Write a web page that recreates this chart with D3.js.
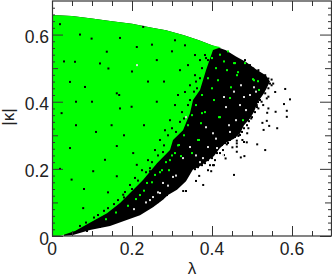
<!DOCTYPE html>
<html>
<head>
<meta charset="utf-8">
<script src="https://cdn.jsdelivr.net/npm/d3@7"></script>
<style>
html, body { margin: 0; padding: 0; background: #fff; }
svg { display: block; }
text { font-family: "Liberation Sans", sans-serif; fill: #222; }
</style>
</head>
<body>
<div id="chart"></div>
<script>
// [lambda, kappa] pairs
var upper_edge = [[0,.658],[.05,.655],[.1,.648],[.15,.64],[.2,.632],[.25,.62],[.285,.613],[.33,.598],[.3675,.583],[.4,.568],[.435,.553],[.46,.535],[.485,.518],[.51,.497],[.535,.478],[.545,.46]];
var black_lower_edge = [[.53,.425],[.515,.4],[.505,.37],[.495,.35],[.48,.33],[.47,.305],[.455,.29],[.435,.278],[.42,.262],[.405,.238],[.39,.225],[.37,.208],[.352,.197],[.335,.163],[.3125,.138],[.29,.122],[.2775,.108],[.2525,.086],[.22,.062],[.145,.03],[.095,.018],[.0525,.003],[.03,0]];
var green_edge = [[.4225,.5625],[.4025,.554],[.385,.494],[.37,.435],[.3525,.405],[.345,.366],[.3275,.315],[.3025,.286],[.295,.256],[.2625,.217],[.2275,.167],[.195,.128],[.17,.098],[.1375,.068],[.1025,.045],[.0575,.015],[.0275,.003],[.02,0],[0,0]];

var black_points = [[.587,.373],[.587,.355],[.58,.393],[.583,.438],[.595,.407],[.559,.37],[.541,.38],[.538,.367],[.537,.343],[.526,.337],[.543,.328],[.529,.316],[.563,.321],[.533,.256],[.513,.273],[.487,.279],[.48,.28],[.462,.284],[.462,.276],[.462,.266],[.451,.264],[.437,.273],[.462,.251],[.481,.238],[.472,.234],[.434,.231],[.476,.286],[.488,.306],[.466,.298],[.491,.321],[.498,.35],[.489,.345],[.558,.429],[.553,.454],[.541,.415],[.533,.425],[.516,.38],[.528,.39],[.455,.182],[.378,.152],[.335,.134],[.328,.134],[.368,.179],[.36,.164],[.398,.193],[.39,.196],[.405,.211],[.43,.241],
  [.02,.631],[.099,.588],[.141,.499],[.162,.425],[.168,.42],[.262,.4],[.0575,.519],[.045,.459],[.12,.514],[.137,.549],[.228,.623],[.212,.563],[.262,.524],[.024,.366],[.0825,.444],[.149,.33],[.199,.385],[.162,.178],[.212,.212],[.1325,.227],[.049,.168],[.103,.193],[.203,.247],[.045,.262],[.178,.123],[.078,.083],[.228,.153],[.245,.193],[.162,.268],
  [.37,.524],[.3825,.539],[.3575,.479],[.345,.449],[.3325,.429],[.3625,.44],[.3825,.47],[.32,.494],[.34,.509],[.315,.42],[.3075,.39],[.325,.369],[.295,.345],[.2825,.315],[.3,.321],[.27,.286],[.2575,.256],[.2775,.25],[.24,.226],[.225,.196],[.245,.202],[.2075,.173],[.195,.152],[.1825,.131],[.165,.107],[.14,.083],[.115,.0625],[.39,.524],[.3575,.539],[.3325,.568],[.3075,.583],[.345,.405],
  [.4825,.524],[.495,.509],[.503,.499],[.516,.494],[.524,.479],[.533,.479],[.541,.469],[.549,.466],[.537,.454],[.545,.454],[.549,.449],[.533,.44],[.541,.44],[.524,.429],[.537,.41],[.52,.405],[.512,.39],[.524,.4],
  [.515,.399],[.5125,.384],[.5075,.369],[.5,.354],[.4925,.342],[.4875,.33],[.48,.321],[.475,.31],[.47,.301],[.4575,.295],[.445,.286],[.44,.277],[.45,.295],
  [.44,.286],[.4325,.277],[.425,.271],[.4275,.256],[.415,.262],[.4125,.247],[.42,.247],[.4025,.241],[.4,.232],[.4075,.226],[.39,.226],[.3825,.217],[.395,.211],[.375,.211],[.365,.205],[.4025,.211],[.3575,.199],
  [.3175,.152],[.3075,.143],[.295,.131],[.2875,.122],[.2775,.113],[.265,.101],[.2525,.092],[.24,.083],[.2275,.08],[.12,.027],[.0875,.015],[.17,.045],[.2025,.06],[.2275,.077],
  [.385,.53],[.375,.5],[.36,.46],[.37,.47],[.355,.43],[.34,.39],[.33,.35],[.32,.34],[.31,.31],[.29,.3],[.28,.27],[.265,.24],[.25,.22],[.235,.19],[.215,.165],[.2,.14],[.18,.115],[.155,.095],[.13,.075],[.105,.055],[.085,.04],[.07,.03],
  [.07,.6],[.17,.59],[.2,.49],[.24,.46],[.1,.4],[.06,.33],[.18,.3],[.23,.33],[.28,.46],[.3,.55],[.03,.52],[.11,.31],[.02,.2],[.08,.14],[.14,.13],[.25,.57],[.17,.38],[.06,.4]];
var green_points = [[.505,.464],[.5175,.435],[.4775,.345],[.455,.515],[.405,.405],[.415,.464],[.4175,.354],[.4475,.443],[.465,.488],[.3725,.336],[.3225,.238],[.3675,.286],[.2925,.196],[.3175,.271],[.4575,.515],[.4825,.515],[.4375,.494],[.4625,.479],[.5025,.467],[.515,.461],[.445,.411],[.275,.196],[.2375,.158],[.22,.122],[.2575,.182],[.295,.226],[.365,.286],[.35,.247],[.42,.354],[.3825,.369],[.375,.366],[.3075,.247],
  [.4,.53],[.41,.5],[.39,.47],[.4,.44],[.375,.42],[.36,.39],[.35,.36],[.34,.33],[.33,.3],[.315,.27],[.3,.24],[.285,.22],[.27,.19],[.25,.16],[.23,.135],[.21,.11],[.19,.09],[.16,.07],[.135,.05],[.42,.54],[.43,.52],[.44,.55]];
var white_points = [[.27,.128],[.245,.107],[.3025,.176],[.2775,.158],[.2525,.116],[.3775,.232],[.4125,.262],[.345,.265],[.4275,.241],[.37,.22],[.3275,.232],[.335,.354],[.385,.324],[.435,.384],[.485,.375],[.4725,.449],[.505,.443],[.43,.414],[.48,.414],[.4425,.33],[.4025,.306],[.2125,.509],
  [.445,.31],[.46,.345],[.47,.39],[.495,.42],[.41,.29],[.39,.265],[.36,.24],[.31,.18],[.29,.15],[.265,.13],[.235,.1],[.205,.08],[.455,.43],[.51,.43]];

var x_major = [0, 0.2, 0.4, 0.6];
var y_major = [0, 0.2, 0.4, 0.6];
var x_minor = [0.05, 0.1, 0.15, 0.25, 0.3, 0.35, 0.45, 0.5, 0.55, 0.65];
var y_medium = [0.1, 0.3, 0.5];
var y_minor = [0.02, 0.04, 0.06, 0.08, 0.12, 0.14, 0.16, 0.18, 0.22, 0.24, 0.26, 0.28, 0.32, 0.34, 0.36, 0.38, 0.42, 0.44, 0.46, 0.48, 0.52, 0.54, 0.56, 0.58, 0.62, 0.64, 0.66, 0.68];

var WIDTH = 332, HEIGHT = 277;
var FRAME_COLOR = "#333";

var x = d3.scaleLinear().domain([0, 0.7]).range([52, 332]);
var y = d3.scaleLinear().domain([0, 0.7]).range([236, 1]);

var svg = d3.select("#chart").append("svg")
    .attr("width", WIDTH)
    .attr("height", HEIGHT);

var outline = d3.line().x(function (d) { return x(d[0]); }).y(function (d) { return y(d[1]); });

// black band under everything, green cloud on top of it
svg.append("path")
    .attr("d", outline(upper_edge.concat(black_lower_edge)) + "Z")
    .attr("fill", "#000");
svg.append("path")
    .attr("d", outline(upper_edge.filter(function (d) { return d[0] <= 0.4; }).concat(green_edge)) + "Z")
    .attr("fill", "#00ff00");

function draw_dots(points, color) {
    svg.append("g").selectAll("rect")
        .data(points)
        .enter().append("rect")
        .attr("x", function (d) { return x(d[0]) - 1; })
        .attr("y", function (d) { return y(d[1]) - 1; })
        .attr("width", 2)
        .attr("height", 2)
        .attr("fill", color);
}
draw_dots(black_points, "#000");
draw_dots(green_points, "#00ff00");
draw_dots(white_points, "#ddd");

// all four sides carry inward ticks, labels only bottom and left
function draw_ticks(axis, values, size) {
    var g = svg.append("g").call(axis.tickValues(values).tickSize(size).tickFormat(""));
    g.select(".domain").remove();
    g.selectAll("line").attr("stroke", FRAME_COLOR).attr("stroke-width", 1);
    return g;
}
[[x_major, 10], [x_minor, 5]].forEach(function (t) {
    draw_ticks(d3.axisTop(x), t[0], t[1]).attr("transform", "translate(0,236)");
    draw_ticks(d3.axisBottom(x), t[0], t[1]).attr("transform", "translate(0,1)");
});
[[y_major, 11], [y_medium, 6], [y_minor, 3]].forEach(function (t) {
    draw_ticks(d3.axisRight(y), t[0], t[1]).attr("transform", "translate(52,0)");
    draw_ticks(d3.axisLeft(y), t[0], t[1]).attr("transform", "translate(331,0)");
});

svg.append("rect")
    .attr("x", 52.5)
    .attr("y", 1)
    .attr("width", 279)
    .attr("height", 235)
    .attr("fill", "none")
    .attr("stroke", FRAME_COLOR)
    .attr("stroke-width", 1.2);

svg.selectAll(".xlab")
    .data(x_major)
    .enter().append("text")
    .attr("x", function (d) { return x(d); })
    .attr("y", 255)
    .attr("text-anchor", "middle")
    .attr("font-size", 17.5)
    .text(function (d) { return d; });

svg.selectAll(".ylab")
    .data(y_major)
    .enter().append("text")
    .attr("x", 49)
    .attr("y", function (d) { return y(d) + 8.5; })
    .attr("text-anchor", "end")
    .attr("font-size", 17.5)
    .text(function (d) { return d; });

svg.append("text")
    .attr("x", 192)
    .attr("y", 274)
    .attr("text-anchor", "middle")
    .attr("font-size", 17)
    .text("λ");

svg.append("text")
    .attr("transform", "translate(14,117) rotate(-90)")
    .attr("text-anchor", "middle")
    .attr("font-size", 17)
    .text("|κ|");
</script>
</body>
</html>
